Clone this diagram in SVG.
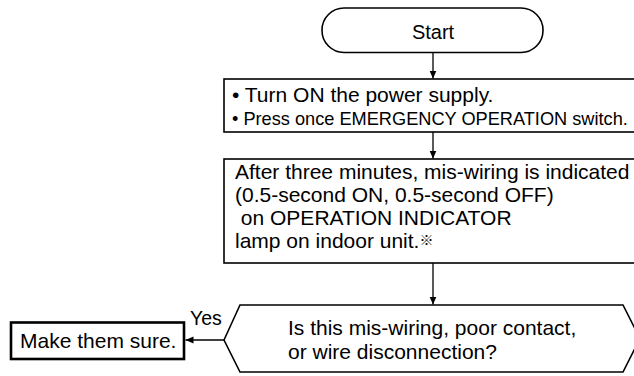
<svg xmlns="http://www.w3.org/2000/svg" width="634" height="376" viewBox="0 0 634 376">
<style>
.box{fill:#fff;stroke:#000;stroke-width:1.6}
.t{font-family:"Liberation Sans",Arial,"Noto Sans CJK JP",sans-serif;font-size:21px;fill:#000}
.c{stroke:#000;stroke-width:1.3;fill:none}
</style>
<defs>
<marker id="ah" markerUnits="userSpaceOnUse" markerWidth="8" markerHeight="8" refX="8" refY="3.5" orient="auto">
<path d="M0,0 L8,3.5 L0,7 z" fill="#000"/>
</marker>
</defs>
<g id="connectors">
<line class="c" x1="433" y1="52" x2="433" y2="78.5" marker-end="url(#ah)"/>
<line class="c" x1="433" y1="132" x2="433" y2="158.5" marker-end="url(#ah)"/>
<line class="c" x1="433" y1="263" x2="433" y2="304.5" marker-end="url(#ah)"/>
<line class="c" x1="224" y1="340" x2="185.5" y2="340" marker-end="url(#ah)"/>
</g>
<g id="start">
<rect class="box" x="322" y="8" width="221" height="44.5" rx="22" ry="22"/>
<text class="t" x="433" y="39" text-anchor="middle" style="font-size:20px">Start</text>
</g>
<g id="power">
<rect class="box" x="224" y="79" width="420" height="53"/>
<text class="t" x="232" y="101.5">• Turn ON the power supply.</text>
<text class="t" x="232" y="125" style="font-size:18.2px">• Press once EMERGENCY OPERATION switch.</text>
</g>
<g id="indicate">
<rect class="box" x="224" y="159" width="420" height="104"/>
<text class="t" x="235" y="179">After three minutes, mis-wiring is indicated</text>
<text class="t" x="235" y="202">(0.5-second ON, 0.5-second OFF)</text>
<text class="t" x="235" y="225" xml:space="preserve"> on OPERATION INDICATOR</text>
<text class="t" x="235" y="248">lamp on indoor unit.<tspan style="font-size:14px" dy="-3">※</tspan></text>
</g>
<g id="decision">
<path class="box" d="M224,340 L240,305 L623,305 L640,338.5 L623,372 L240,372 Z"/>
<text class="t" x="288" y="335">Is this mis-wiring, poor contact,</text>
<text class="t" x="288" y="359">or wire disconnection?</text>
</g>
<g id="make">
<rect x="11" y="322.5" width="173" height="36.5" fill="#fff" stroke="#000" stroke-width="2.6"/>
<text class="t" x="20" y="348">Make them sure.</text>
</g>
<g id="yes-label">
<text class="t" x="190" y="325" style="font-size:19.5px">Yes</text>
</g>
</svg>
